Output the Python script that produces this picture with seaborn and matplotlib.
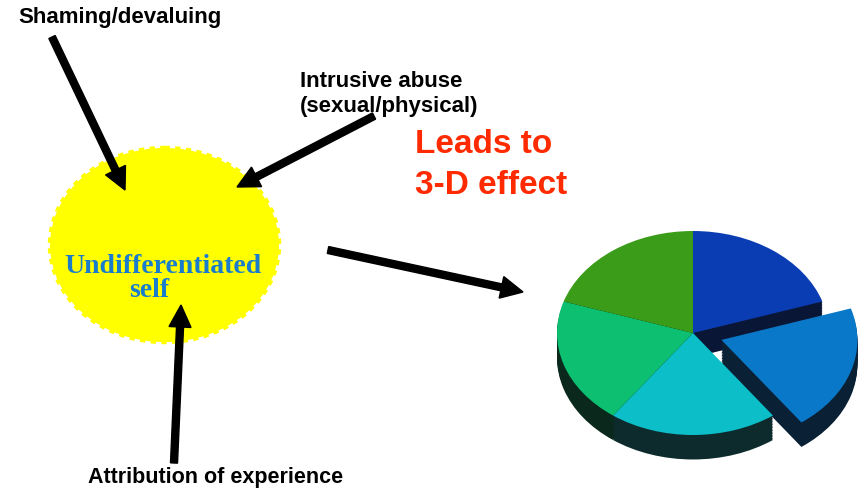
import matplotlib
matplotlib.use("Agg")
import matplotlib.pyplot as plt
from matplotlib.patches import Ellipse
import seaborn as sns

# ---- data ----
slice_values = [20, 20, 20, 20, 20]
slice_colors = ["#0a3db4", "#0a78c8", "#0bbec8", "#0dbf70", "#3a9c18"]
side_colors = ["#0a1636", "#0a2035", "#0d2a2c", "#0a291c", "#0c1e0e"]
explode_amt = [0, 0.22, 0, 0, 0]

influence_labels = ["Shaming/devaluing", "Intrusive abuse", "(sexual/physical)",
                    "Attribution of experience"]
effect_labels = ["Leads to", "3-D effect"]
self_labels = ["Undifferentiated", "self"]

sns.set_theme(style="white")
plt.rcParams["font.family"] = ["Liberation Sans", "DejaVu Sans"]

W, H = 865, 492
fig = plt.figure(figsize=(W / 100, H / 100), dpi=100)
ax = fig.add_axes([0, 0, 1, 1])
ax.set_xlim(0, W)
ax.set_ylim(H, 0)
ax.axis("off")

# yellow "self" blob
ax.add_patch(Ellipse((164.5, 245), 229, 194, facecolor="#ffff00",
                     edgecolor="#ffff00", lw=3.2, ls=(0, (1.2, 1.2)), zorder=1))
ax.text(162.5, 273, self_labels[0], family=["Liberation Serif", "DejaVu Serif"],
        weight="bold", fontsize=20, color="#1a7ccc", ha="center", va="baseline", zorder=3)
ax.text(149, 297, self_labels[1], family=["Liberation Serif", "DejaVu Serif"],
        weight="bold", fontsize=20, color="#1a7ccc", ha="center", va="baseline", zorder=3)

# labels
bold = dict(weight="bold", color="black", va="baseline", fontsize=16)
ax.text(18, 23, influence_labels[0], **bold)
ax.text(300, 87, influence_labels[1], **bold)
ax.text(300, 112, influence_labels[2], **bold)
ax.text(88, 483, influence_labels[3], fontsize=15.5,
        **{k: v for k, v in bold.items() if k != "fontsize"})
ax.text(415, 153, effect_labels[0], weight="bold", color="#ff2a00", fontsize=24, va="baseline")
ax.text(415, 194, effect_labels[1], weight="bold", color="#ff2a00", fontsize=24, va="baseline")

# arrows (start -> tip), pixel layout
arrows = [((52, 37), (125, 190)),
          ((374, 116), (237, 187)),
          ((174, 463), (181, 305)),
          ((328, 250), (523, 292))]
for (x0, y0), (x1, y1) in arrows:
    ax.arrow(x0, y0, x1 - x0, y1 - y0, width=7, head_width=22, head_length=22,
             length_includes_head=True, color="black", zorder=4)

# 3-D pie
cx, cy, rx, ry = 693, 333, 136, 102
lim = 1.3
pax = fig.add_axes([(cx - lim * rx) / W, (H - cy - lim * ry) / H,
                    2 * lim * rx / W, 2 * lim * ry / H])
depth = 0.24
n_layers = 16
for k in range(n_layers, 0, -1):
    pax.pie(slice_values, colors=side_colors, explode=explode_amt, startangle=90,
            counterclock=False, center=(0, -depth * k / n_layers),
            wedgeprops=dict(linewidth=0))
pax.pie(slice_values, colors=slice_colors, explode=explode_amt, startangle=90,
        counterclock=False, center=(0, 0), wedgeprops=dict(linewidth=0))
pax.set_aspect("auto")
pax.set_xlim(-lim, lim)
pax.set_ylim(-lim, lim)
pax.axis("off")

fig.savefig("out.png", dpi=100)
